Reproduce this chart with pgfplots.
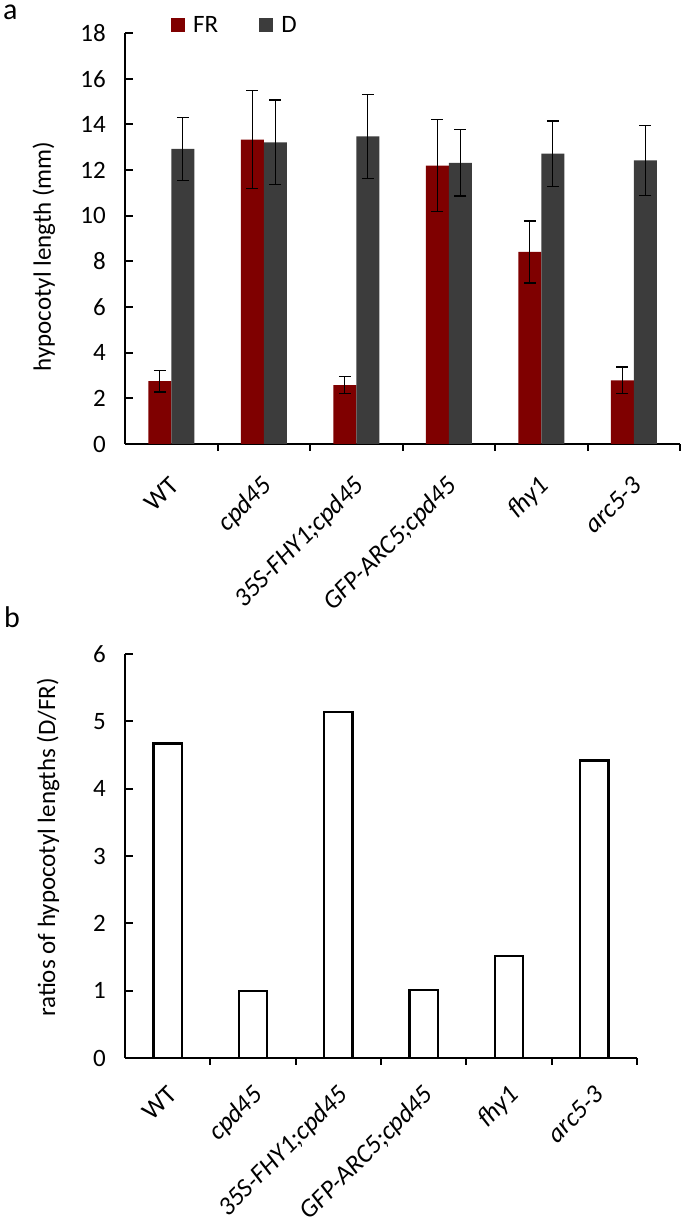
\documentclass[border=0pt]{standalone}
\usepackage{fontspec}
\setmainfont{Carlito}
\usepackage{pgfplots}
\pgfplotsset{compat=1.18}
\definecolor{frcol}{HTML}{7F0000}
\definecolor{dcol}{HTML}{3C3C3C}
\newcommand{\fs}{\fontsize{25}{30}\selectfont}
\newcommand{\fx}{\fontsize{26}{31}\selectfont}
\pgfplotstableread{
x y e
0.5 2.75 0.47
1.5 13.33 2.15
2.5 2.58 0.37
3.5 12.19 2.02
4.5 8.41 1.36
5.5 2.79 0.58
}\frdata
\pgfplotstableread{
x y e
0.5 12.92 1.37
1.5 13.21 1.85
2.5 13.47 1.83
3.5 12.31 1.45
4.5 12.72 1.43
5.5 12.42 1.54
}\ddata
\pgfplotstableread{
x y
0.5 4.67
1.5 0.99
2.5 5.14
3.5 1.01
4.5 1.51
5.5 4.42
}\ratiodata
\begin{document}
\begin{tikzpicture}
\path[use as bounding box] (0,0) rectangle (685pt,1225pt);
\pgfplotsset{
 mystyle/.style={
  scale only axis, axis lines*=left, clip=false,
  xmin=0, xmax=6, ymin=0,
  xtick={0.5,1.5,2.5,3.5,4.5,5.5},
  xticklabels={WT,\textit{cpd45},\textit{35S-FHY1;cpd45},\textit{GFP-ARC5;cpd45},\textit{fhy1},\textit{arc5-3}},
  minor xtick={1,2,3,4,5,6},
  tick align=inside,
  major tick length=8pt,
  minor tick length=7pt,
  axis line style={line width=2pt, black},
  tick style={line width=2pt, black},
  major x tick style={draw=none},
  tick label style={font=\fs},
  /pgf/number format/assume math mode=true,
  yticklabel style={anchor=east, inner sep=0pt, xshift=-19pt},
  label style={font=\fs},
 }
}
\node[anchor=base west, font=\fontsize{30}{36}\selectfont, inner sep=0pt, text height=14pt] at (3pt,1205pt) {a};
\node[anchor=base west, font=\fontsize{30}{36}\selectfont, inner sep=0pt] at (4pt,597pt) {b};
\begin{axis}[mystyle, at={(125pt,781pt)}, anchor=south west,
  width=555pt, height=411pt, ymax=18, ytick={0,2,...,18},
  ybar=0pt, bar width=23pt,
  xticklabel style={font=\fx, rotate=45, anchor=base east, inner sep=0pt, xshift=-18.4pt, yshift=-31.1pt},
  ylabel={hypocotyl length (mm)},
  ylabel style={at={(axis description cs:-0.146,0.456)}, anchor=center},
  legend columns=2,
  legend image code/.code={\path[#1] (0pt,-7pt) rectangle (14pt,7pt);},
  legend style={at={(axis description cs:0,1)}, anchor=west, xshift=46pt, yshift=7.5pt,
    draw=none, fill=none, inner sep=0pt, font=\fs, nodes={inner sep=0pt},
    /tikz/every odd column/.append style={column sep=8pt},
    /tikz/every even column/.append style={column sep=41pt}},
  ]
\addplot[fill=frcol, draw=none,
  error bars/.cd, y dir=both, y explicit,
  error bar style={draw=black, line width=1.3pt},
  error mark options={rotate=90, mark size=6pt, line width=1.3pt, draw=black}]
  table[x=x, y=y, y error=e] {\frdata};
\addlegendentry{FR}
\addplot[fill=dcol, draw=none,
  error bars/.cd, y dir=both, y explicit,
  error bar style={draw=black, line width=1.3pt},
  error mark options={rotate=90, mark size=6pt, line width=1.3pt, draw=black}]
  table[x=x, y=y, y error=e] {\ddata};
\addlegendentry{D}
\end{axis}
\begin{axis}[mystyle, at={(125pt,167pt)}, anchor=south west,
  width=512pt, height=404pt, ymax=6, ytick={0,1,...,6},
  ybar, bar width=28.5pt,
  xticklabel style={font=\fx, rotate=45, anchor=base east, inner sep=0pt, xshift=-13.8pt, yshift=-29pt},
  ylabel={ratios of hypocotyl lengths (D/FR)},
  ylabel style={at={(axis description cs:-0.150,0.521)}, anchor=center},
  ]
\addplot[fill=white, draw=black, line width=2.3pt] table[x=x, y=y] {\ratiodata};
\end{axis}
\end{tikzpicture}
\end{document}
